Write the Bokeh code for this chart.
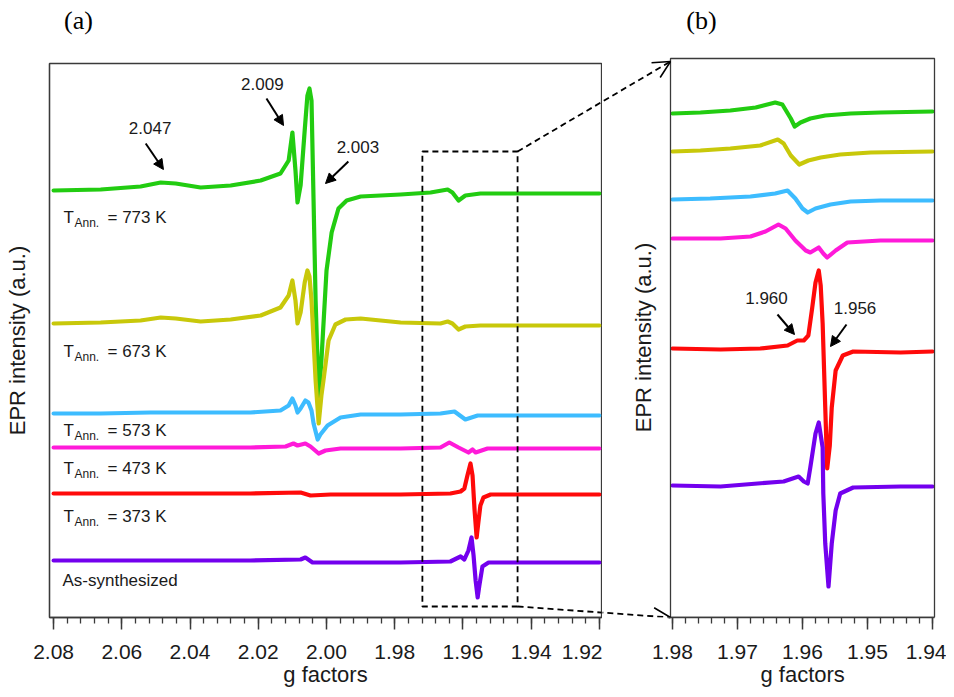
from bokeh.plotting import figure
from bokeh.layouts import row, column
from bokeh.models import (Range1d, FixedTicker, PrintfTickFormatter, Label, Arrow,
                          NormalHead, OpenHead, BoxAnnotation, Title)
from bokeh.embed import file_html
from bokeh.resources import INLINE
import numpy as np

FONT = "Liberation Sans"
SERIF = "Liberation Serif"

# ---------------- data: panel (a), g factor vs EPR intensity (a.u., stacked) -------------
A_G_773 = [2.0800, 2.0662, 2.0545, 2.0486, 2.0442, 2.0369, 2.0281, 2.0193, 2.0135, 2.0111,
           2.0100, 2.0091, 2.0085, 2.0076, 2.0064, 2.0056, 2.0050, 2.0044, 2.0038, 2.0032,
           2.0023, 2.0015, 2.0000, 1.9985, 1.9965, 1.9941, 1.9900, 1.9783, 1.9695, 1.9645,
           1.9631, 1.9613, 1.9593, 1.9549, 1.9431, 1.9314, 1.9200]
A_I_773 = [427, 428, 431, 435, 434, 430, 432, 437, 444, 457,
           485, 447, 415, 432, 487, 522, 529, 517, 417, 317,
           219, 257, 347, 385, 409, 417, 421, 423, 425, 428,
           425, 417, 422, 424, 424, 424, 424]

A_G_673 = [2.0800, 2.0662, 2.0545, 2.0486, 2.0442, 2.0369, 2.0281, 2.0193, 2.0135, 2.0111,
           2.0100, 2.0091, 2.0085, 2.0076, 2.0064, 2.0056, 2.0050, 2.0044, 2.0038, 2.0032,
           2.0023, 2.0015, 2.0009, 1.9994, 1.9974, 1.9944, 1.9900, 1.9783, 1.9666, 1.9645,
           1.9631, 1.9613, 1.9593, 1.9549, 1.9431, 1.9314, 1.9200]
A_I_673 = [294, 295, 297, 300, 299, 296, 298, 302, 310, 322,
           337, 317, 294, 305, 335, 347, 341, 317, 277, 237,
           194, 222, 237, 277, 293, 298, 299, 295, 294, 296,
           294, 288, 291, 292, 292, 292, 292]

A_G_573 = [2.0800, 2.0662, 2.0516, 2.0369, 2.0223, 2.0135, 2.0111, 2.0100, 2.0091, 2.0085,
           2.0076, 2.0062, 2.0053, 2.0044, 2.0038, 2.0026, 2.0018, 1.9997, 1.9959, 1.9900,
           1.9783, 1.9666, 1.9625, 1.9613, 1.9593, 1.9557, 1.9431, 1.9200]
A_I_573 = [204, 204, 205, 205, 205, 207, 212, 219, 212, 205,
           209, 217, 215, 207, 194, 178, 183, 192, 200, 203,
           203, 204, 206, 203, 198, 202, 202, 202]

A_G_473 = [2.0800, 2.0516, 2.0223, 2.0120, 2.0097, 2.0085, 2.0062, 2.0047, 2.0023, 2.0003,
           1.9959, 1.9783, 1.9666, 1.9640, 1.9613, 1.9584, 1.9572, 1.9563, 1.9528, 1.9490,
           1.9200]
A_I_473 = [170, 170, 170, 171, 174, 172, 174, 171, 164, 167,
           169, 169, 170, 175, 170, 165, 168, 165, 169, 169,
           169]

A_G_373 = [2.0800, 2.0516, 2.0223, 2.0076, 2.0047, 1.9988, 1.9783, 1.9637, 1.9607, 1.9596,
           1.9587, 1.9578, 1.9572, 1.9566, 1.9560, 1.9555, 1.9549, 1.9540, 1.9519, 1.9431,
           1.9200]
A_I_373 = [124, 124, 124, 125, 122, 123, 123, 124, 126, 129,
           142, 154, 142, 107, 80, 95, 112, 120, 123, 123,
           123]

A_G_AS = [2.0800, 2.0516, 2.0223, 2.0076, 2.0062, 2.0041, 1.9988, 1.9783, 1.9637, 1.9619,
          1.9607, 1.9596, 1.9584, 1.9575, 1.9569, 1.9563, 1.9557, 1.9552, 1.9543, 1.9525,
          1.9431, 1.9200]
A_I_AS = [57, 57, 57, 58, 60, 55, 55, 55, 56, 59,
          61, 58, 67, 80, 62, 37, 20, 32, 51, 55,
          55, 55]

# ---------------- data: panel (b), zoom 1.98 - 1.94 ----------------
B_G_773 = [1.9800, 1.9757, 1.9711, 1.9672, 1.9642, 1.9631, 1.9618, 1.9612, 1.9603, 1.9588,
           1.9565, 1.9526, 1.9480, 1.9400]
B_I_773 = [504, 505, 507, 510, 515, 513, 499, 491, 495, 499, 502, 504, 505, 506]

B_G_673 = [1.9800, 1.9757, 1.9711, 1.9665, 1.9638, 1.9629, 1.9618, 1.9605, 1.9591, 1.9572,
           1.9542, 1.9495, 1.9400]
B_I_673 = [466, 467, 469, 472, 478, 474, 462, 453, 457, 460, 463, 465, 466]

B_G_573 = [1.9800, 1.9742, 1.9680, 1.9642, 1.9623, 1.9611, 1.9600, 1.9592, 1.9580, 1.9557,
           1.9526, 1.9480, 1.9400]
B_I_573 = [418, 419, 421, 424, 427, 419, 409, 405, 409, 413, 416, 417, 417]

B_G_473 = [1.9800, 1.9726, 1.9680, 1.9657, 1.9637, 1.9626, 1.9611, 1.9595, 1.9588, 1.9575,
           1.9568, 1.9562, 1.9549, 1.9531, 1.9480, 1.9400]
B_I_473 = [379, 379, 381, 386, 393, 389, 377, 367, 365, 370, 364, 360, 367, 375, 377, 377]

B_G_373 = [1.9800, 1.9726, 1.9665, 1.9623, 1.9608, 1.9598, 1.9591, 1.9585, 1.9580, 1.9575,
           1.9572, 1.9569, 1.9565, 1.9562, 1.9558, 1.9555, 1.9549, 1.9538, 1.9522, 1.9449,
           1.9400]
B_I_373 = [269, 268, 269, 272, 277, 277, 282, 310, 335, 347,
           332, 294, 210, 149, 172, 210, 247, 262, 266, 265,
           266]

B_G_AS = [1.9800, 1.9726, 1.9669, 1.9629, 1.9606, 1.9598, 1.9592, 1.9588, 1.9580, 1.9575,
          1.9569, 1.9568, 1.9565, 1.9560, 1.9555, 1.9549, 1.9542, 1.9522, 1.9449, 1.9400]
B_I_AS = [132, 131, 134, 136, 141, 136, 134, 150, 184, 195,
          170, 124, 74, 31, 74, 107, 124, 130, 131, 131]

COLORS = ["#22cc11", "#c8c80a", "#3dbcff", "#ff1ad9", "#ff0a0a", "#7300ee"]
A_SERIES = [(A_G_773, A_I_773), (A_G_673, A_I_673), (A_G_573, A_I_573),
            (A_G_473, A_I_473), (A_G_373, A_I_373), (A_G_AS, A_I_AS)]
B_SERIES = [(B_G_773, B_I_773), (B_G_673, B_I_673), (B_G_573, B_I_573),
            (B_G_473, B_I_473), (B_G_373, B_I_373), (B_G_AS, B_I_AS)]

SAMPLE_TEMPS = ["773 K", "673 K", "573 K", "473 K", "373 K"]
SAMPLE_LABEL_Y = [400, 266, 187, 149, 101]
AS_LABEL = "As-synthesized"
AS_LABEL_Y = 37

A_TICKS = [2.08, 2.06, 2.04, 2.02, 2.00, 1.98, 1.96, 1.94, 1.92]
B_TICKS = [1.98, 1.97, 1.96, 1.95, 1.94]

# peak annotations: (text, text_x, text_y, arrow_x0, arrow_y0, arrow_x1, arrow_y1)
A_PEAKS = [("2.047", 2.0517, 490, 2.0530, 474, 2.0478, 448),
           ("2.009", 2.0188, 534, 2.0176, 519, 2.0126, 492),
           ("2.003", 1.9908, 471, 1.9936, 456, 2.0003, 434)]
B_PEAKS = [("1.960", 1.96554, 320, 1.96385, 303, 1.96123, 283),
           ("1.956", 1.95192, 310, 1.95323, 293, 1.95569, 271)]

# zoom box in panel (a)
BOX_LEFT, BOX_RIGHT, BOX_BOTTOM, BOX_TOP = 1.9719, 1.9440, 11, 466

# ---------------- layout geometry (page pixels) ----------------
H = 690
HDR = 40                     # header strip above panel (a) holding "(a)"
FRAME_BOTTOM = 617
# panel (a): ordinary frame
A_W, A_BL, A_BR, A_BT = 602, 49, 1, 63
A_START, A_END = 2.0812, 1.9194
A_YMAX = FRAME_BOTTOM - A_BT                  # 554
A_SCALE = (A_W - A_BL - A_BR) / (A_START - A_END)
# panel (b): its drawing area also covers the gap on its left (for the zoom connectors)
B_W = 344
B_PX_PER_G = 6500.0
B_G_AT_LEFT = 1.98 + (672 - A_W) / B_PX_PER_G   # canvas left edge
B_G_AT_RIGHT = B_G_AT_LEFT - B_W / B_PX_PER_G
B_PANEL_LEFT = 1.98 + 2 / B_PX_PER_G             # visible panel box
B_PANEL_RIGHT = 1.94 - 2 / B_PX_PER_G
B_PANEL_TOP = 559
B_YMAX = FRAME_BOTTOM

AXIS_COLOR = "#3a3a3a"
TXT = "#1a1a1a"


def style_xaxis(p, ticks, minor_step, label=True):
    ax = p.xaxis[0]
    lo, hi = min(ticks), max(ticks)
    minor = list(np.round(np.arange(lo, hi + minor_step / 2, minor_step), 4))
    ax.ticker = FixedTicker(ticks=ticks, minor_ticks=minor)
    ax.formatter = PrintfTickFormatter(format="%.2f")
    ax.axis_line_color = AXIS_COLOR
    ax.axis_line_width = 1.3
    ax.major_tick_in = 0
    ax.major_tick_out = 12
    ax.minor_tick_in = 0
    ax.minor_tick_out = 6
    ax.major_tick_line_color = AXIS_COLOR
    ax.minor_tick_line_color = AXIS_COLOR
    ax.major_tick_line_width = 1.5
    ax.minor_tick_line_width = 1.3
    ax.major_label_text_font = FONT
    ax.major_label_text_font_size = "21px"
    ax.major_label_text_color = TXT
    ax.major_label_standoff = 15
    if label:
        ax.axis_label = "g factors"
        ax.axis_label_text_font = FONT
        ax.axis_label_text_font_size = "22px"
        ax.axis_label_text_font_style = "normal"
        ax.axis_label_text_color = TXT
        ax.axis_label_standoff = 0


def base(p):
    p.xgrid.visible = False
    p.ygrid.visible = False
    p.background_fill_color = "white"
    p.border_fill_color = "white"
    p.frame_align = False


# ---------------- header strip with "(a)" ----------------
hA = figure(width=A_W, height=HDR, output_backend="svg", toolbar_location=None,
            x_range=Range1d(A_START + A_BL / A_SCALE, A_END - A_BR / A_SCALE),
            y_range=Range1d(0, HDR), min_border=0)
base(hA)
hA.axis.visible = False
hA.outline_line_color = None
hA.add_layout(Label(x=2.0727, y=HDR - 20, text="(a)", text_font=SERIF, text_font_size="26px",
                    text_align="center", text_baseline="middle", text_color="black"))

# ---------------- panel (a) ----------------
pA = figure(width=A_W, height=H - HDR, output_backend="svg", toolbar_location=None,
            x_range=Range1d(A_START, A_END), y_range=Range1d(0, A_YMAX),
            min_border_left=A_BL, min_border_right=A_BR, min_border_top=A_BT - HDR,
            min_border_bottom=H - FRAME_BOTTOM)
base(pA)
pA.outline_line_color = AXIS_COLOR
pA.outline_line_width = 1.3
style_xaxis(pA, A_TICKS, 0.004)
ay = pA.yaxis[0]
ay.ticker = FixedTicker(ticks=[])
ay.major_tick_out = 0
ay.major_tick_in = 0
ay.minor_tick_out = 0
ay.minor_tick_in = 0
ay.major_label_standoff = 0
ay.major_label_text_font_size = "0px"
ay.axis_line_color = AXIS_COLOR
ay.axis_line_width = 1.3
ay.axis_label = "EPR intensity (a.u.)"
ay.axis_label_text_font = FONT
ay.axis_label_text_font_size = "22px"
ay.axis_label_text_font_style = "normal"
ay.axis_label_text_color = TXT
ay.axis_label_standoff = 20

for (g, inten), c in zip(A_SERIES, COLORS):
    pA.line(g, inten, line_color=c, line_width=4.2, line_join="round", line_cap="round")

# ---------------- panel (b) ----------------
pB = figure(width=B_W, height=H, output_backend="svg", toolbar_location=None,
            x_range=Range1d(B_G_AT_LEFT, B_G_AT_RIGHT), y_range=Range1d(0, B_YMAX),
            min_border_left=0, min_border_right=0, min_border_top=0,
            min_border_bottom=H - FRAME_BOTTOM)
base(pB)
pB.outline_line_color = None
pB.yaxis.visible = False
style_xaxis(pB, B_TICKS, 0.002, label=False)
pB.xaxis[0].bounds = (B_PANEL_RIGHT, B_PANEL_LEFT)
# x-axis title of panel (b), centred under the visible panel box
B_PANEL_CENTER_PX = ((B_G_AT_LEFT - B_PANEL_LEFT) + (B_G_AT_LEFT - B_PANEL_RIGHT)) / 2 * B_PX_PER_G
G_LABEL_HALF_WIDTH = 42
pB.add_layout(Title(text="g factors", align="left",
                    offset=round(B_PANEL_CENTER_PX - G_LABEL_HALF_WIDTH),
                    text_font=FONT, text_font_size="22px", text_font_style="normal",
                    text_color=TXT, vertical_align="top", standoff=0), "below")
pB.add_layout(BoxAnnotation(left=B_PANEL_LEFT, right=B_PANEL_RIGHT, bottom=0, top=B_PANEL_TOP,
                            fill_alpha=0, line_color=AXIS_COLOR, line_alpha=1, line_width=1.3))
pB.add_layout(Label(x=1.98 + 29 / B_PX_PER_G, y=FRAME_BOTTOM - 337, text="EPR intensity (a.u.)",
                    angle=np.pi / 2, text_font=FONT, text_font_size="22px", text_align="center",
                    text_baseline="middle", text_color=TXT))
pB.add_layout(Label(x=1.97554, y=597, text="(b)", text_font=SERIF, text_font_size="26px",
                    text_align="center", text_baseline="middle", text_color="black"))

for (g, inten), c in zip(B_SERIES, COLORS):
    pB.line(g, inten, line_color=c, line_width=4.2, line_join="round", line_cap="round")


def peak_notes(p, notes):
    for t, tx, ty, x0, y0, x1, y1 in notes:
        p.add_layout(Label(x=tx, y=ty, text=t, text_font=FONT, text_font_size="17px",
                           text_align="center", text_baseline="middle", text_color=TXT))
        p.add_layout(Arrow(x_start=x0, y_start=y0, x_end=x1, y_end=y1, line_width=2,
                           line_color="black",
                           end=NormalHead(size=10, fill_color="black", line_color="black")))


peak_notes(pA, A_PEAKS)
peak_notes(pB, B_PEAKS)

# sample labels
LX = 2.0771
for temp, yb in zip(SAMPLE_TEMPS, SAMPLE_LABEL_Y):
    pA.add_layout(Label(x=LX, y=yb, text="T", text_font=FONT, text_font_size="17px",
                        text_baseline="alphabetic", text_color=TXT))
    pA.add_layout(Label(x=LX, y=yb - 5, x_offset=11, text="Ann.", text_font=FONT,
                        text_font_size="12px", text_baseline="alphabetic", text_color=TXT))
    pA.add_layout(Label(x=LX, y=yb, x_offset=44, text="= " + temp, text_font=FONT,
                        text_font_size="17px", text_baseline="alphabetic", text_color=TXT))
pA.add_layout(Label(x=LX + 0.0003, y=AS_LABEL_Y, text=AS_LABEL, text_font=FONT,
                    text_font_size="17px", text_baseline="alphabetic", text_color=TXT))

# zoom box and dashed connectors (each figure draws its own part of the line)
pA.add_layout(BoxAnnotation(left=BOX_RIGHT, right=BOX_LEFT, bottom=BOX_BOTTOM, top=BOX_TOP,
                            fill_alpha=0, line_color="black", line_alpha=1, line_width=1.8,
                            line_dash="6 4"))
B_LEFT_PX = A_W + (B_G_AT_LEFT - B_PANEL_LEFT) * B_PX_PER_G     # page x of panel (b) box
gA_at_B = A_START - (B_LEFT_PX - A_BL) / A_SCALE
box_px = A_BL + (A_START - BOX_RIGHT) * A_SCALE
gB_at_box = B_G_AT_LEFT + (A_W - box_px) / B_PX_PER_G
TIP_TOP, TIP_BOTTOM = B_PANEL_TOP - 3, 0

for ys, ye in [(BOX_TOP, TIP_TOP), (BOX_BOTTOM, TIP_BOTTOM)]:
    pA.add_layout(Arrow(x_start=BOX_RIGHT, y_start=ys, x_end=gA_at_B, y_end=ye,
                        line_width=1.8, line_color="black", line_dash="6 4", end=None))
    pB.add_layout(Arrow(x_start=gB_at_box, y_start=ys, x_end=B_PANEL_LEFT, y_end=ye,
                        line_width=1.8, line_color="black", line_dash="6 4",
                        end=OpenHead(size=17, line_width=1.6, line_color="black")))

layout = row(column(hA, pA), pB)
open("out.html", "w").write(file_html(layout, INLINE))
